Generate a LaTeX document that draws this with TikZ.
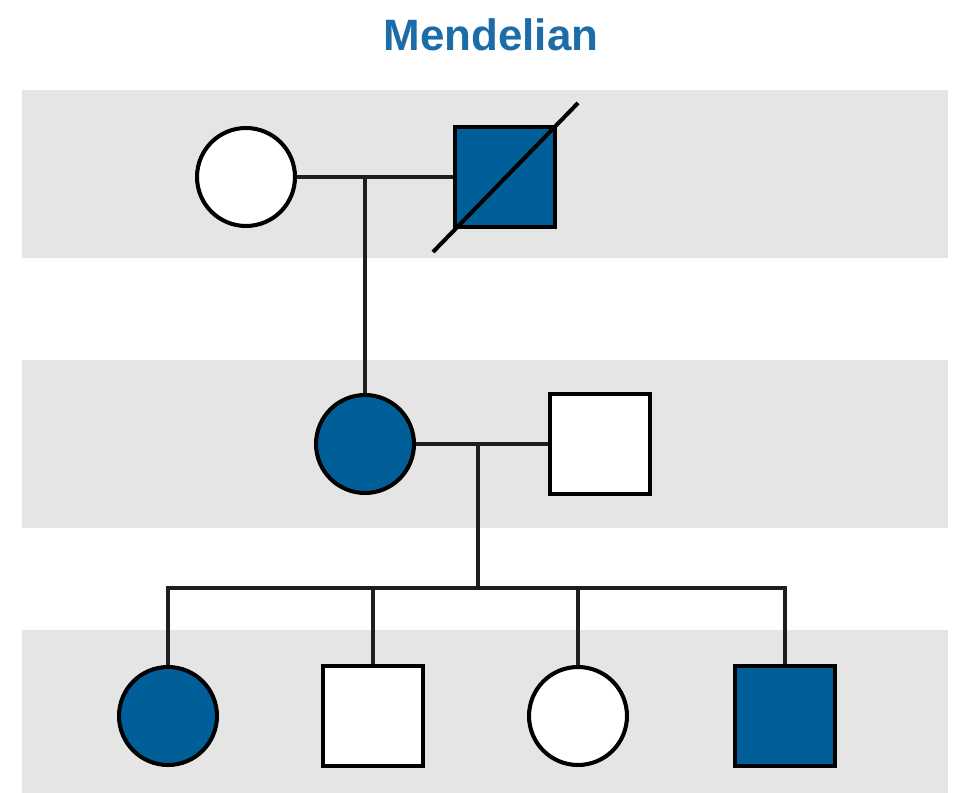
\documentclass[tikz,border=0pt]{standalone}
\usepackage{fontspec}
\setmainfont{Liberation Sans}
\usepackage{tikz}
\usetikzlibrary{positioning}
\definecolor{pedBlue}{RGB}{0,94,152}
\definecolor{titleBlue}{RGB}{28,108,170}
\definecolor{bandGray}{RGB}{229,229,229}
\definecolor{lineDark}{RGB}{30,30,30}

\begin{document}
\begin{tikzpicture}[
  x=0.02cm, y=-0.02cm,
  fem/.style={circle, draw=black, line width=2.3pt, fill=white,
              minimum size=1.96cm, inner sep=0pt},
  mal/.style={rectangle, draw=black, line width=2.3pt, fill=white,
              minimum size=2.0cm, inner sep=0pt},
  aff/.style={fill=pedBlue},
  ln/.style={draw=lineDark, line width=2pt},
  band/.style={fill=bandGray, draw=none},
]

%% Canvas and generation bands
\fill[white] (0,0) rectangle (956,793);
\fill[band] (22,90)  rectangle (948,258);
\fill[band] (22,360) rectangle (948,528);
\fill[band] (22,630) rectangle (948,793);

\node[font=\bfseries\fontsize{25}{29}\selectfont, text=titleBlue] (title) at (491,35) {Mendelian};

%% Nodes
\node[fem]      (gi1)  at (246,177) {};
\node[mal, aff] (gi2)  at (505,177) {};
\coordinate     (mi)   at (365,177);

\node[fem, aff] (gii1) at (365,444) {};
\node[mal]      (gii2) at (600,444) {};
\coordinate     (mii)  at (478,444);
\coordinate     (sib)  at (478,588);

\node[fem, aff] (c1) at (168,716) {};
\node[mal]      (c2) at (373,716) {};
\node[fem]      (c3) at (578,716) {};
\node[mal, aff] (c4) at (785,716) {};

%% Edges
\draw[ln] (gi1) -- (gi2);
\draw[ln] (mi) -- (gii1);
\draw[ln] (gii1) -- (gii2);
\draw[ln] (mii) -- (sib);
\draw[ln] (c1.north) |- (sib) -| (c4.north);
\foreach \c in {c2,c3}
  \draw[ln] (\c |- sib) -- (\c.north);

%% Deceased
\draw[line width=2.3pt, black] ([shift={(-20,23)}]gi2.south west) -- ([shift={(21,-22)}]gi2.north east);
\end{tikzpicture}
\end{document}
